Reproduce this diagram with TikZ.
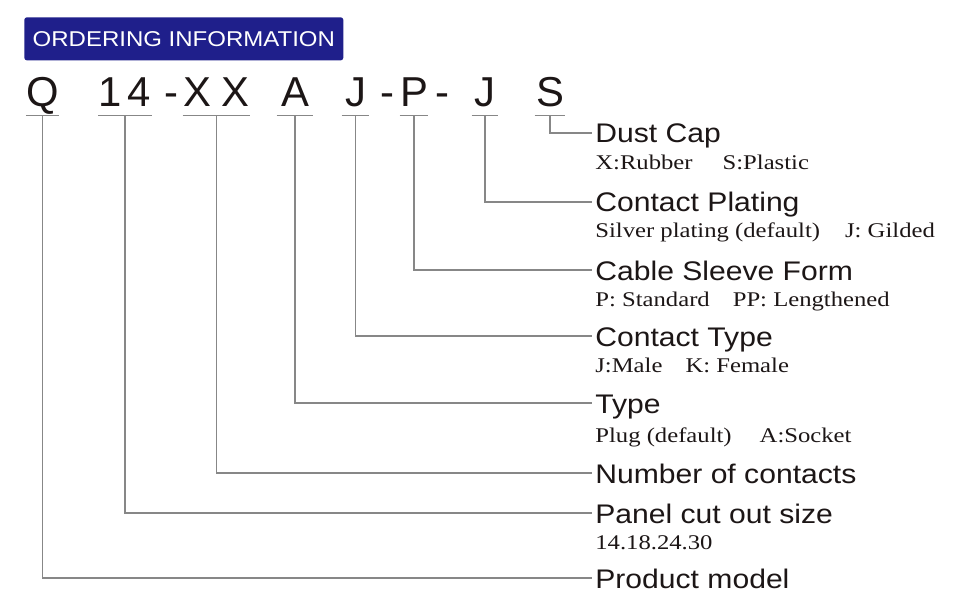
\documentclass[tikz,border=0pt]{standalone}
\usepackage{fontspec}
\setmainfont{Liberation Serif}
\newfontfamily\codefont{Liberation Sans}
\newfontfamily\labelfont[FakeStretch=1.12]{Liberation Sans}
\newfontfamily\optfont[FakeStretch=1.18]{Liberation Serif}
\definecolor{headblue}{RGB}{31,31,139}
\definecolor{leadgray}{RGB}{135,135,135}
\definecolor{ink}{RGB}{28,22,22}
\begin{document}
\begin{tikzpicture}[x=0.02cm,y=-0.02cm,
        code/.style={anchor=base,inner xsep=0pt,inner ysep=0.16cm,text depth=0pt,text=ink,
            font=\codefont\fontsize{23.8pt}{24pt}\selectfont},
        lbl/.style={anchor=base west,inner xsep=0.06cm,inner ysep=0pt,text height=0.4cm,text depth=0pt,
            text=ink,font=\labelfont\fontsize{15.3pt}{16pt}\selectfont},
        opt/.style={anchor=base west,inner sep=0pt,text=ink,font=\optfont\fontsize{11.9pt}{12pt}\selectfont},
        lead/.style={draw=leadgray,line width=0.6pt}]
        \useasboundingbox (0,0) rectangle (960,601);
        % Header
        \node[anchor=north west,minimum width=6.38cm,minimum height=0.86cm,inner sep=0pt,
            fill=headblue,rounded corners=0.05cm,text=white,
            font=\labelfont\fontsize{12.2pt}{13pt}\selectfont] (hdr) at (24,17) {ORDERING INFORMATION};
        % Code
        \node[code,minimum width=0.54cm] (cQ) at (42.5,107) {Q};
        \node[code,minimum width=1cm] (cSize) at (125,107) {1\hspace{0.12cm}4};
        \node[code] (d1) at (171,107) {-};
        \node[code,minimum width=1.34cm] (cNum) at (216.5,107) {X\hspace{0.2cm}X};
        \node[code,minimum width=0.72cm] (cType) at (295,107) {A};
        \node[code,minimum width=0.54cm] (cContact) at (355.5,107) {J};
        \node[code] (d2) at (387,107) {-};
        \node[code,minimum width=0.52cm] (cSleeve) at (414,107) {P};
        \node[code] (d3) at (442,107) {-};
        \node[code,minimum width=0.52cm] (cPlating) at (485,107) {J};
        \node[code,minimum width=0.6cm] (cDust) at (550,107) {S};
        \foreach \c in {cQ,cSize,cNum,cType,cContact,cSleeve,cPlating,cDust}
            \draw[lead] (\c.south west)--(\c.south east);
        % Labels
        \node[lbl] (lDust) at (592,143) {Dust Cap};
        \node[opt] (oDust) at (595,170) {X:Rubber\hspace{0.6cm}S:Plastic};
        \node[lbl] (lPlating) at (592,212) {Contact Plating};
        \node[opt] (oPlating) at (595,237) {Silver plating (default)\hspace{0.5cm}J: Gilded};
        \node[lbl] (lSleeve) at (592,280) {Cable Sleeve Form};
        \node[opt] (oSleeve) at (595,306) {P: Standard\hspace{0.46cm}PP: Lengthened};
        \node[lbl] (lContact) at (592,346) {Contact Type};
        \node[opt] (oContact) at (595,372) {J:Male\hspace{0.46cm}K: Female};
        \node[lbl] (lType) at (592,413) {Type};
        \node[opt] (oType) at (595,442) {Plug (default)\hspace{0.56cm}A:Socket};
        \node[lbl] (lNum) at (592,483) {Number of contacts};
        \node[lbl] (lSize) at (592,523) {Panel cut out size};
        \node[opt] (oSize) at (595,549) {14.18.24.30};
        \node[lbl] (lQ) at (592,588) {Product model};
        % Leads
        \foreach \c/\l in {cDust/lDust,cPlating/lPlating,cSleeve/lSleeve,cContact/lContact,
                cType/lType,cNum/lNum,cSize/lSize,cQ/lQ}
            \draw[lead] (\c.south) |- (\l.west);
    \end{tikzpicture}
\end{document}
